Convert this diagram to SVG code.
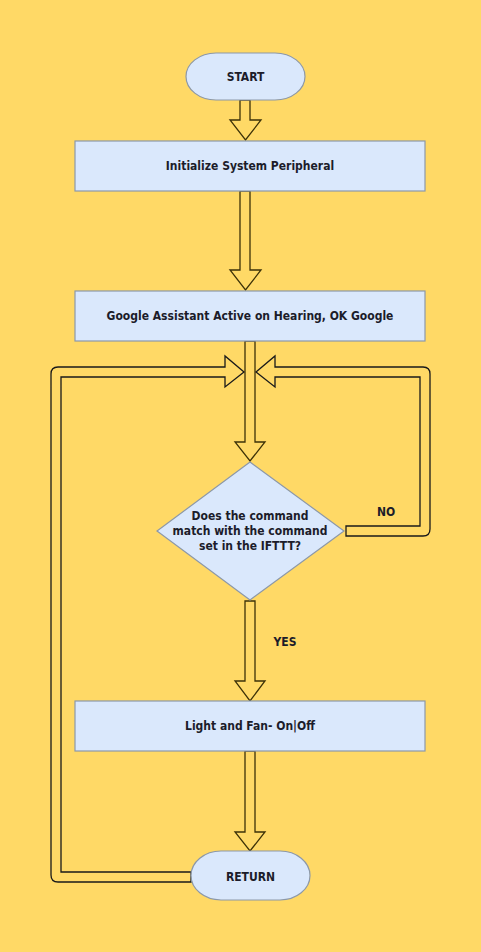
<svg xmlns="http://www.w3.org/2000/svg" width="481" height="952" viewBox="0 0 481 952">
<style>
.bg{fill:#FFD966}
.node{fill:#DAE8FC;stroke:#8C98A8;stroke-width:1.2}
.arr{fill:#FFD966;stroke:#3d3208;stroke-width:1.3;stroke-linejoin:miter}
.loop{fill:#FFD966;stroke:#1a1a1a;stroke-width:1.3}
text{font-family:"DejaVu Sans Condensed","DejaVu Sans",Verdana,sans-serif;font-stretch:condensed;font-weight:bold;font-size:12px;fill:#1c1c2a;text-anchor:middle}
</style>
<rect class="bg" x="0" y="0" width="481" height="952"/>
<g id="connectors">
<path class="arr" d="M240,100 L250,100 L250,120 L261,120 L245.5,140 L230,120 L240,120 Z"/>
<path class="arr" d="M240,191 L250,191 L250,270 L261,270 L245.5,290 L230,270 L240,270 Z"/>
<path class="arr" d="M245,341 L255,341 L255,442 L265,442 L250,461 L235,442 L245,442 Z"/>
<path class="arr" d="M245,601 L255,601 L255,681 L265,681 L250,701 L235,681 L245,681 Z"/>
<path class="arr" d="M245,751 L255,751 L255,832 L265,832 L250,851 L235,832 L245,832 Z"/>
<path class="loop" d="M191,882 L58,882 Q51,882 51,875 L51,374 Q51,367 58,367 L225,367 L225,356 L244,372 L225,387 L225,377 L61,377 L61,872 L191,872 Z"/>
<path class="loop" d="M346,536 L423,536 Q430,536 430,529 L430,374 Q430,367 423,367 L275,367 L275,356 L256,372 L275,387 L275,377 L420,377 L420,526 L346,526 Z"/>
<text x="386" y="516">NO</text>
<text x="285" y="646">YES</text>
</g>
<g id="start">
<rect class="node" x="186" y="53" width="119" height="47" rx="30" ry="23.5"/>
<text x="245.5" y="81">START</text>
</g>
<g id="init">
<rect class="node" x="75" y="141" width="350" height="50"/>
<text x="250" y="170">Initialize System Peripheral</text>
</g>
<g id="assistant">
<rect class="node" x="75" y="291" width="350" height="50"/>
<text x="250" y="320">Google Assistant Active on Hearing, OK Google</text>
</g>
<g id="decision">
<polygon class="node" points="250,462 344,531 250,600 157,531"/>
<text x="250" y="520">Does the command</text>
<text x="250" y="535">match with the command</text>
<text x="250" y="550">set in the IFTTT?</text>
</g>
<g id="light">
<rect class="node" x="75" y="701" width="350" height="50"/>
<text x="250" y="730">Light and Fan- On|Off</text>
</g>
<g id="return">
<rect class="node" x="191" y="851" width="119" height="49" rx="30" ry="24.5"/>
<text x="250.5" y="881">RETURN</text>
</g>
</svg>
